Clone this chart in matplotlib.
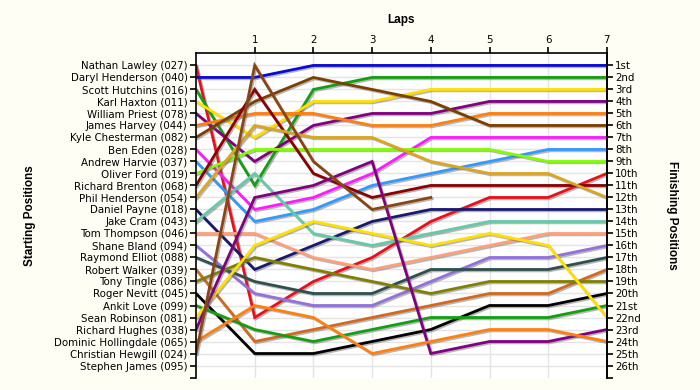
import matplotlib
matplotlib.use("Agg")
import matplotlib.pyplot as plt
import matplotlib.patheffects as pe

# starting grid order, top to bottom
drivers = [
    "Nathan Lawley (027)", "Daryl Henderson (040)", "Scott Hutchins (016)",
    "Karl Haxton (011)", "William Priest (078)", "James Harvey (044)",
    "Kyle Chesterman (082)", "Ben Eden (028)", "Andrew Harvie (037)",
    "Oliver Ford (019)", "Richard Brenton (068)", "Phil Henderson (054)",
    "Daniel Payne (018)", "Jake Cram (043)", "Tom Thompson (046)",
    "Shane Bland (094)", "Raymond Elliot (088)", "Robert Walker (039)",
    "Tony Tingle (086)", "Roger Nevitt (045)", "Ankit Love (099)",
    "Sean Robinson (081)", "Richard Hughes (038)", "Dominic Hollingdale (065)",
    "Christian Hewgill (024)", "Stephen James (095)",
]

laps = [0, 1, 2, 3, 4, 5, 6, 7]

# position at the end of each lap (lap 0 = grid)
positions = [
    [1, 22, 19, 17, 14, 12, 12, 10],
    [2, 2, 1, 1, 1, 1, 1, 1],
    [3, 11, 3, 2, 2, 2, 2, 2],
    [4, 7, 4, 4, 3, 3, 3, 3],
    [5, 9, 6, 5, 5, 4, 4, 4],
    [6, 5, 5, 6, 6, 5, 5, 5],
    [7, 4, 2, 3, 4, 6, 6, 6],
    [8, 13, 12, 10, 7, 7, 7, 7],
    [9, 14, 13, 11, 10, 9, 8, 8],
    [10, 8, 8, 8, 8, 8, 9, 9],
    [11, 3, 10, 12, 11, 11, 11, 11],
    [12, 6, 7, 7, 9, 10, 10, 12],
    [13, 18, 16, 14, 13, 13, 13, 13],
    [14, 10, 15, 16, 15, 14, 14, 14],
    [15, 15, 17, 18, 17, 16, 15, 15],
    [16, 20, 21, 21, 19, 17, 17, 16],
    [17, 19, 20, 20, 18, 18, 18, 17],
    [18, 24, 23, 22, 21, 20, 20, 18],
    [19, 17, 18, 19, 20, 19, 19, 19],
    [20, 25, 25, 24, 23, 21, 21, 20],
    [21, 23, 24, 23, 22, 22, 22, 21],
    [22, 16, 14, 15, 16, 15, 16, 22],
    [23, 12, 11, 9, 25, 24, 24, 23],
    [24, 21, 22, 25, 24, 23, 23, 24],
    [25, 1, 9, 13, 12],
    [],
]

colours = [
    "#e8101a", "#0a0ad8", "#12a012", "#ffe000", "#800080", "#ff8010",
    "#7b3f00", "#ff1aff", "#3399ff", "#80ff00", "#8b0000", "#daa520",
    "#191970", "#66c9a8", "#ffa07a", "#9370db", "#2f4f4f", "#d2691e",
    "#808000", "#000000", "#12a012", "#ffe000", "#800080", "#ff8010",
    "#8b4513", "#888888",
]


def ordinal(n):
    if 10 <= n % 100 <= 20:
        suf = "th"
    else:
        suf = {1: "st", 2: "nd", 3: "rd"}.get(n % 10, "th")
    return str(n) + suf


plt.rcParams['font.family'] = ['DejaVu Sans']
tick_fs = 7.4
title_font = dict(family="Liberation Sans", fontsize=8.5, fontweight="bold")

fig = plt.figure(figsize=(7, 3.9), dpi=100, facecolor="#fefef4")
ax = fig.add_axes([0.28, 0.032, 0.587, 0.831])
ax.set_facecolor("white")

n = len(drivers)
for i, pos in enumerate(positions):
    if not pos:
        continue
    ax.plot(laps[:len(pos)], pos, color=colours[i], lw=2.0, solid_joinstyle="miter",
            path_effects=[pe.SimpleLineShadow(offset=(1, -1), shadow_color="#606060", alpha=0.45),
                          pe.Normal()])

ax.set_xlim(0, laps[-1])
ax.set_ylim(n + 1, 0)

# grid
for p in range(1, n + 1):
    ax.axhline(p, color="#e4e4e4", lw=1, zorder=0)
for lp in laps[1:-1]:
    ax.axvline(lp, color="#e4e4e4", lw=1, zorder=0)

ax.xaxis.tick_top()
ax.set_xticks(laps[1:])
ax.set_xticklabels([str(l) for l in laps[1:]])
ax.set_yticks(range(1, n + 2))
ax.set_yticklabels(drivers + [""])
ax.tick_params(axis="both", direction="out", length=4, width=1.2, labelsize=tick_fs, pad=2)
ax.xaxis.set_label_position("top")
ax.set_xlabel("Laps", **title_font)
ax.xaxis.set_label_coords(0.5, 1.095)
ax.set_ylabel("Starting Positions", **title_font)
ax.yaxis.set_label_coords(-0.39, 0.5)

for s in ["left", "right", "top"]:
    ax.spines[s].set_linewidth(1.2)
ax.spines["bottom"].set_visible(False)

ax2 = ax.twinx()
ax2.set_ylim(n + 1, 0)
ax2.set_yticks(range(1, n + 2))
ax2.set_yticklabels([ordinal(p) for p in range(1, n + 1)] + [""])
ax2.tick_params(axis="y", direction="out", length=4, width=1.2, labelsize=tick_fs, pad=2)
ax2.spines["right"].set_linewidth(1.2)
ax2.spines["bottom"].set_visible(False)
ax2.spines["top"].set_visible(False)
ax2.spines["left"].set_visible(False)
ax2.set_ylabel("Finishing Positions", rotation=270, va="center", **title_font)
ax2.yaxis.set_label_coords(1.158, 0.5)

fig.savefig("out.png", dpi=100, facecolor=fig.get_facecolor())
